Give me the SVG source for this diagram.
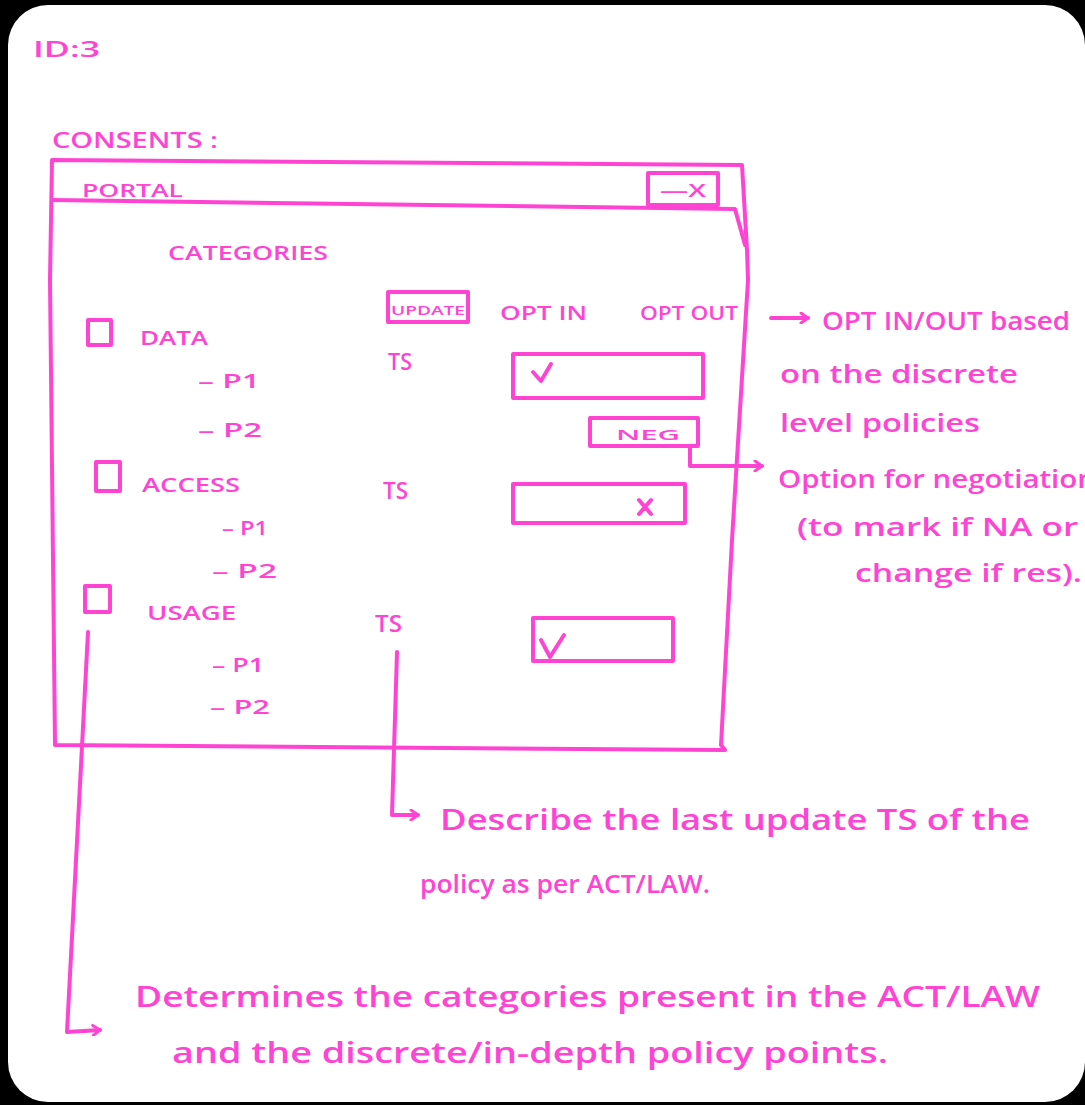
<svg xmlns="http://www.w3.org/2000/svg" width="1085" height="1105" viewBox="0 0 1085 1105">
<style>
.ln{fill:none;stroke:#ff44d4;stroke-width:4;stroke-linecap:round;stroke-linejoin:round}
.tx{fill:#ff44d4;font-family:"Open Sans","Liberation Sans",sans-serif;font-weight:600}
.cap{font-size:20px}
.ts{font-size:24px}
.ann{font-size:25px}
.big{font-size:29px}
</style>
<defs>
<marker id="ah2" viewBox="0 0 12 12" refX="10" refY="6" markerWidth="12" markerHeight="12" orient="auto" markerUnits="userSpaceOnUse">
<path d="M3,1 L10,6 L3,11" fill="none" stroke="#ff44d4" stroke-width="3" stroke-linecap="round" stroke-linejoin="round"/>
</marker>
</defs>
<rect x="0" y="0" width="1085" height="1105" fill="#000"/>
<rect x="8" y="5" width="1077" height="1097" rx="40" fill="#fff"/>

<g id="header">
<text class="tx" x="33" y="57" font-size="22" textLength="67" lengthAdjust="spacingAndGlyphs">ID:3</text>
<text class="tx" x="52" y="148" font-size="22" textLength="166" lengthAdjust="spacingAndGlyphs">CONSENTS :</text>
</g>

<g id="portal-window">
<path class="ln" d="M52,160 L742,165 L747,250 L748,280 L732,540 L721,745 L725,750 L55,745 L50,280 Z"/>
<path class="ln" d="M52,200 L735,209 L745,245"/>
<text class="tx" x="82" y="197" font-size="18" textLength="101" lengthAdjust="spacingAndGlyphs">PORTAL</text>
</g>

<g id="close-button">
<rect class="ln" x="648" y="173" width="70" height="32"/>
<text class="tx" x="660" y="197" font-size="18" textLength="46" lengthAdjust="spacingAndGlyphs">—X</text>
</g>

<g id="categories-title">
<text class="tx cap" x="168" y="260" textLength="160" lengthAdjust="spacingAndGlyphs">CATEGORIES</text>
</g>

<g id="update-header">
<rect class="ln" x="388" y="292" width="80" height="30"/>
<text class="tx" x="391" y="315" font-size="13" textLength="74" lengthAdjust="spacingAndGlyphs">UPDATE</text>
</g>
<g id="optin-header">
<text class="tx" x="500" y="320" font-size="19" textLength="87" lengthAdjust="spacingAndGlyphs">OPT IN</text>
</g>
<g id="optout-header">
<text class="tx" x="640" y="320" font-size="19" textLength="98" lengthAdjust="spacingAndGlyphs">OPT OUT</text>
</g>

<g id="cat-data">
<rect class="ln" x="88" y="320" width="23" height="25"/>
<text class="tx cap" x="140" y="345" textLength="68" lengthAdjust="spacingAndGlyphs">DATA</text>
<text class="tx cap" x="198" y="388" textLength="62" lengthAdjust="spacingAndGlyphs">– P1</text>
<text class="tx cap" x="198" y="437" textLength="64" lengthAdjust="spacingAndGlyphs">– P2</text>
<text class="tx ts" x="388" y="370" textLength="24" lengthAdjust="spacingAndGlyphs">TS</text>
</g>

<g id="cat-access">
<rect class="ln" x="96" y="462" width="24" height="29"/>
<text class="tx cap" x="142" y="492" textLength="98" lengthAdjust="spacingAndGlyphs">ACCESS</text>
<text class="tx cap" x="222" y="535" textLength="46" lengthAdjust="spacingAndGlyphs">– P1</text>
<text class="tx cap" x="212" y="578" textLength="65" lengthAdjust="spacingAndGlyphs">– P2</text>
<text class="tx ts" x="383" y="499" textLength="25" lengthAdjust="spacingAndGlyphs">TS</text>
</g>

<g id="cat-usage">
<rect class="ln" x="85" y="586" width="25" height="26"/>
<text class="tx cap" x="147" y="620" textLength="89" lengthAdjust="spacingAndGlyphs">USAGE</text>
<text class="tx cap" x="212" y="672" textLength="52" lengthAdjust="spacingAndGlyphs">– P1</text>
<text class="tx cap" x="210" y="714" textLength="60" lengthAdjust="spacingAndGlyphs">– P2</text>
<text class="tx ts" x="375" y="632" textLength="27" lengthAdjust="spacingAndGlyphs">TS</text>
</g>

<g id="data-optin-box">
<rect class="ln" x="513" y="354" width="190" height="44"/>
<path class="ln" d="M533,372 L541,381 L551,364"/>
</g>

<g id="neg-button">
<rect class="ln" x="590" y="418" width="108" height="28"/>
<text class="tx" x="616" y="440" font-size="15" textLength="64" lengthAdjust="spacingAndGlyphs">NEG</text>
</g>

<g id="access-optout-box">
<rect class="ln" x="513" y="484" width="172" height="39"/>
<path class="ln" d="M639,500 L651,514 M651,500 L639,514"/>
</g>

<g id="usage-optin-box">
<rect class="ln" x="533" y="618" width="140" height="43"/>
<path class="ln" d="M541,640 L550,657 L564,635"/>
</g>

<g id="connectors">
<path class="ln" d="M771,318 L808,318" marker-end="url(#ah2)"/>
<path class="ln" d="M690,448 L690,466 L762,466" marker-end="url(#ah2)"/>
<path class="ln" d="M397,652 L392,815 L418,815" marker-end="url(#ah2)"/>
<path class="ln" d="M88,632 L67,1032 L100,1030" marker-end="url(#ah2)"/>
</g>

<g id="note-optinout">
<text class="tx ann" x="822" y="330" textLength="248" lengthAdjust="spacingAndGlyphs">OPT IN/OUT based</text>
<text class="tx ann" x="780" y="383" textLength="238" lengthAdjust="spacingAndGlyphs">on the discrete</text>
<text class="tx ann" x="780" y="432" textLength="200" lengthAdjust="spacingAndGlyphs">level policies</text>
</g>

<g id="note-negotiation">
<text class="tx ann" x="778" y="488" textLength="318" lengthAdjust="spacingAndGlyphs">Option for negotiation</text>
<text class="tx ann" x="797" y="536" textLength="281" lengthAdjust="spacingAndGlyphs">(to mark if NA or</text>
<text class="tx ann" x="855" y="582" textLength="227" lengthAdjust="spacingAndGlyphs">change if res).</text>
</g>

<g id="note-ts">
<text class="tx big" x="440" y="830" textLength="590" lengthAdjust="spacingAndGlyphs">Describe the last update TS of the</text>
<text class="tx" x="420" y="893" font-size="25" textLength="290" lengthAdjust="spacingAndGlyphs">policy as per ACT/LAW.</text>
</g>

<g id="note-categories">
<text class="tx big" x="135" y="1007" textLength="905" lengthAdjust="spacingAndGlyphs">Determines the categories present in the ACT/LAW</text>
<text class="tx big" x="172" y="1063" textLength="716" lengthAdjust="spacingAndGlyphs">and the discrete/in-depth policy points.</text>
</g>
</svg>
